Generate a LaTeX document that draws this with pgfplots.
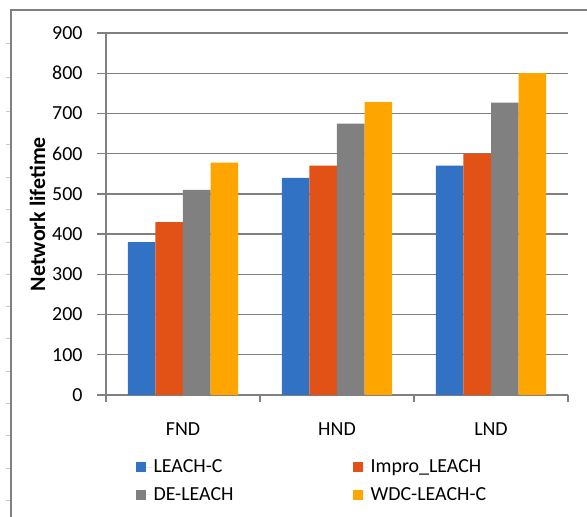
\documentclass[border=0pt]{standalone}
\usepackage{fontspec}
\setmainfont{Carlito}
\usepackage{pgfplots}
\pgfplotsset{compat=1.18}
\definecolor{cBlue}{RGB}{49,114,196}
\definecolor{cRed}{RGB}{226,82,22}
\definecolor{cGray}{RGB}{128,128,128}
\definecolor{cGold}{RGB}{255,165,0}
\definecolor{cLine}{RGB}{128,128,128}
\begin{document}
\begin{tikzpicture}
\begin{axis}[
    at={(0,0)}, anchor=south west,
    scale only axis, width=462bp, height=362bp,
    ybar=0pt, bar width=27.6bp,
    xmin=-0.5, xmax=2.5, ymin=0, ymax=900,
    xtick={0,1,2}, xticklabels={FND,HND,LND},
    major x tick style={draw=none},
    minor xtick={-0.5,0.5,1.5,2.5},
    ytick={0,100,...,900},
    tick align=outside, major tick length=9bp, minor tick length=7bp,
    axis x line*=bottom, axis y line*=left,
    axis line style={cLine, line width=1.3bp, -},
    ymajorgrids, grid style={cLine, line width=1.3bp},
    tick style={cLine, line width=1.3bp},
    tick label style={font=\fontsize{20}{20}\selectfont},
    /pgf/number format/assume math mode=true,
    yticklabel style={xshift=-11bp},
    xticklabel style={yshift=-15bp},
    ylabel={\bfseries Network lifetime},
    ylabel style={font=\fontsize{22}{22}\selectfont},
    legend columns=2, legend cell align=left,
    legend style={draw=none, fill=none, at={(0.057,-0.168)}, anchor=north west,
        font=\fontsize{20}{20}\selectfont, row sep=9bp,
        /tikz/every even column/.append style={column sep=117bp}},
    legend image code/.code={\fill[#1] (0bp,-5bp) rectangle (10bp,5bp); \path (0bp,0bp) -- (16bp,0bp);},
]
\addplot[fill=cBlue, draw=none] coordinates {(0,380) (1,540) (2,570)};
\addplot[fill=cRed, draw=none] coordinates {(0,430) (1,570) (2,600)};
\addplot[fill=cGray, draw=none] coordinates {(0,510) (1,675) (2,727)};
\addplot[fill=cGold, draw=none] coordinates {(0,578) (1,728) (2,800)};
\legend{LEACH-C, Impro\_LEACH, DE-LEACH, WDC-LEACH-C}
\end{axis}
% outer frame (page is 587x517, axis box at x=106, y=122 from bottom)
\draw[cLine, line width=1.2bp] (-95bp,-122bp) -- (-95bp,385bp) -- (481bp,385bp);
\foreach \y in {17,49,82,114,146,179,211,243,275,308,340,373,406,440,474}
    \draw[gray!40, line width=0.8bp] (-100bp,\y bp-122bp) -- (-96bp,\y bp-122bp);
\pgfresetboundingbox
\path (-106bp,-122bp) rectangle (481bp,395bp);
\end{tikzpicture}
\end{document}
